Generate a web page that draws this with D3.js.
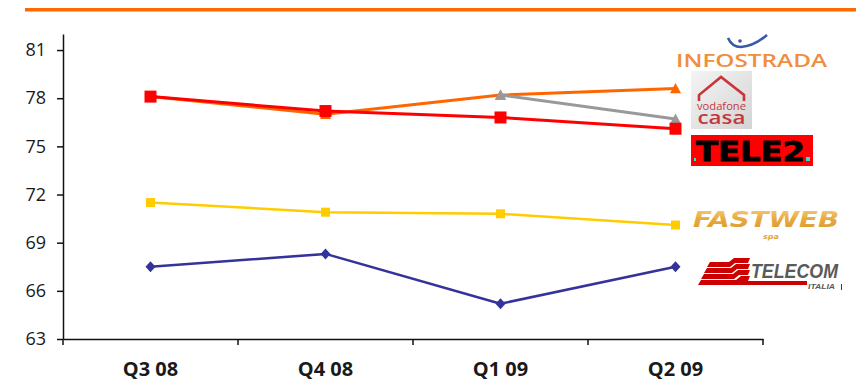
<!DOCTYPE html>
<html>
<head>
<meta charset="utf-8">
<script src="https://cdn.jsdelivr.net/npm/d3@7"></script>
<style>
html,body{margin:0;padding:0;background:#fff;}
svg{display:block;}
</style>
</head>
<body>
<svg id="chart" width="856" height="380"></svg>
<script>
// ---- data ----
const categories = ["Q3 08", "Q4 08", "Q1 09", "Q2 09"];
const yTicks = [63, 66, 69, 72, 75, 78, 81];
const infostrada = [78.1, 77.0, 78.2, 78.6];
const vodafone   = [null, null, 78.2, 76.7];
const tele2      = [78.1, 77.2, 76.8, 76.1];
const fastweb    = [71.5, 70.9, 70.8, 70.1];
const telecom    = [67.5, 68.3, 65.2, 67.5];

const series = [
  {name:"Infostrada", values:infostrada, color:"#ff6600", width:3, marker:"triangle", size:11},
  {name:"Vodafone",   values:vodafone,   color:"#999999", width:3, marker:"triangle", size:11},
  {name:"Tele2",      values:tele2,      color:"#ff0000", width:3, marker:"square",   size:12},
  {name:"Fastweb",    values:fastweb,    color:"#ffcc00", width:2.5, marker:"square", size:9},
  {name:"Telecom",    values:telecom,    color:"#333399", width:2.5, marker:"diamond",size:10}
];

const svg = d3.select("#chart");

// top orange rule
svg.append("rect").attr("x",25).attr("y",8).attr("width",831).attr("height",3.5).attr("fill","#ff6a00");

const x = d3.scaleBand().domain(categories).range([63,763]);
const y = d3.scaleLinear().domain([63,82]).range([339,34]);

// y axis
const gy = svg.append("g").attr("transform","translate(63,0)")
  .call(d3.axisLeft(y).tickValues(yTicks).tickSize(6).tickSizeOuter(0).tickPadding(11));
gy.selectAll("text").attr("font-family","'Open Sans', sans-serif").attr("font-size",18).attr("fill","#1a1a1a");
gy.selectAll("line,path").attr("stroke","#111").attr("stroke-width",1.5);

// x axis (labels centred in bands, ticks on band boundaries)
const gx = svg.append("g").attr("transform","translate(0,339)")
  .call(d3.axisBottom(x).tickSize(0).tickSizeOuter(0).tickPadding(23));
gx.selectAll("text").attr("font-family","'Open Sans', sans-serif").attr("font-weight","bold").attr("font-size",20).attr("fill","#1a1a1a");
gx.select("path.domain").attr("stroke","#111").attr("stroke-width",1.5);
const bounds = categories.map(c => x(c)).concat([x.range()[1]]);
gx.selectAll("line.bound").data(bounds).enter().append("line")
  .attr("class","bound").attr("x1",d=>d).attr("x2",d=>d).attr("y1",0).attr("y2",6)
  .attr("stroke","#111").attr("stroke-width",1.5);

// markers
function markerPath(type, s){
  const h = s/2;
  if(type==="square") return `M${-h},${-h}H${h}V${h}H${-h}Z`;
  if(type==="diamond") return `M0,${-h*1.1}L${h},0L0,${h*1.1}L${-h},0Z`;
  return `M0,${-h}L${h},${h*0.85}L${-h},${h*0.85}Z`;
}

const cx = c => x(c) + x.bandwidth()/2;
const line = d3.line().defined(d=>d.v!=null).x(d=>cx(d.c)).y(d=>y(d.v));

const g = svg.append("g");
series.forEach(s=>{
  const pts = categories.map((c,i)=>({c, v:s.values[i]}));
  g.append("path").datum(pts).attr("d",line).attr("fill","none")
    .attr("stroke",s.color).attr("stroke-width",s.width).attr("stroke-linejoin","round");
  g.selectAll(null).data(pts.filter(d=>d.v!=null)).enter().append("path")
    .attr("transform",d=>`translate(${cx(d.c)},${y(d.v)})`)
    .attr("d",markerPath(s.marker,s.size)).attr("fill",s.color);
});

// ---- logos (approximated) ----
const defs = svg.append("defs");
const gv = defs.append("linearGradient").attr("id","vgrad").attr("x1","0").attr("y1","0").attr("x2","1").attr("y2","1");
gv.append("stop").attr("offset","0").attr("stop-color","#f4f4f4");
gv.append("stop").attr("offset","1").attr("stop-color","#d4d4d4");
const gf = defs.append("linearGradient").attr("id","fgrad").attr("x1","0").attr("y1","0").attr("x2","0").attr("y2","1");
gf.append("stop").attr("offset","0").attr("stop-color","#f7d27a");
gf.append("stop").attr("offset","0.5").attr("stop-color","#e7a83c");
gf.append("stop").attr("offset","1").attr("stop-color","#d89a30");

const L = svg.append("g");
// Infostrada
L.append("path").attr("d","M728,38 Q732,47 741,47 Q754,46 767,35").attr("fill","none").attr("stroke","#3a58a8").attr("stroke-width",2.6);
L.append("circle").attr("cx",740).attr("cy",41).attr("r",1.8).attr("fill","#3a58a8");
L.append("text").attr("x",676).attr("y",67).attr("font-family","'Open Sans', sans-serif").attr("font-weight",600)
  .attr("font-size",18).attr("fill","#ef8e3c").attr("textLength",151).attr("lengthAdjust","spacingAndGlyphs").text("INFOSTRADA");
// Vodafone casa
L.append("rect").attr("x",691).attr("y",71).attr("width",61).attr("height",58).attr("fill","url(#vgrad)");
L.append("path").attr("d","M699,101 V95 L721,77 L744,95 V101").attr("fill","none").attr("stroke","#c8363a").attr("stroke-width",2.6).attr("stroke-linejoin","miter");
L.append("text").attr("x",721.5).attr("y",110).attr("text-anchor","middle").attr("font-family","'Open Sans', sans-serif")
  .attr("font-size",11).attr("fill","#c23a3e").attr("textLength",49).attr("lengthAdjust","spacingAndGlyphs").text("vodafone");
L.append("text").attr("x",721.5).attr("y",124).attr("text-anchor","middle").attr("font-family","'Open Sans', sans-serif")
  .attr("font-weight",600).attr("font-size",18).attr("fill","#c23a3e").attr("textLength",48).attr("lengthAdjust","spacingAndGlyphs").text("casa");
// Tele2
L.append("rect").attr("x",691).attr("y",135).attr("width",122).attr("height",31).attr("fill","#ff0000");
L.append("text").attr("x",696).attr("y",161).attr("font-family","'DejaVu Sans', sans-serif").attr("font-weight","bold")
  .attr("font-size",27).attr("fill","#000").attr("stroke","#000").attr("stroke-width",0.8)
  .attr("textLength",109).attr("lengthAdjust","spacingAndGlyphs").text("TELE2");
L.append("rect").attr("x",694).attr("y",158).attr("width",2).attr("height",3).attr("fill","#33dddd");
L.append("rect").attr("x",806).attr("y",157).attr("width",4).attr("height",4).attr("fill","#33dddd");
// Fastweb
L.append("text").attr("x",693).attr("y",227).attr("font-family","'DejaVu Sans', sans-serif").attr("font-weight","bold").attr("font-style","italic")
  .attr("font-size",22).attr("fill","url(#fgrad)").attr("textLength",146).attr("lengthAdjust","spacingAndGlyphs").text("FASTWEB");
L.append("text").attr("x",763).attr("y",239).attr("font-family","'DejaVu Sans', sans-serif").attr("font-weight","bold").attr("font-style","italic")
  .attr("font-size",7).attr("fill","#e0a840").attr("textLength",16).attr("lengthAdjust","spacingAndGlyphs").text("spa");
// Telecom Italia
const tr = "#cc0000";
[[262,707,729],[268,704,731],[274,701,733],[280,698,736]].forEach(([yy,x0,xb])=>{
  L.append("path").attr("d",`M${x0+3},${yy} H${xb} L${xb+5},${yy-4} H750 L748,${yy+1} H${xb+6} L${xb+1},${yy+5} H${x0} Z`).attr("fill",tr);
});
L.append("rect").attr("x",736).attr("y",281).attr("width",71).attr("height",4).attr("fill",tr);
L.append("text").attr("x",751).attr("y",278).attr("font-family","'Liberation Sans', sans-serif").attr("font-weight","bold").attr("font-style","italic")
  .attr("font-size",21).attr("fill","#5a5a5a").attr("textLength",87).attr("lengthAdjust","spacingAndGlyphs").text("TELECOM");
L.append("text").attr("x",808).attr("y",289).attr("font-family","'Liberation Sans', sans-serif").attr("font-weight","bold").attr("font-style","italic")
  .attr("font-size",8).attr("fill","#5a5a5a").attr("textLength",27).attr("lengthAdjust","spacingAndGlyphs").text("ITALIA");
L.append("rect").attr("x",841).attr("y",284).attr("width",1).attr("height",6).attr("fill",tr);
</script>
</body>
</html>
